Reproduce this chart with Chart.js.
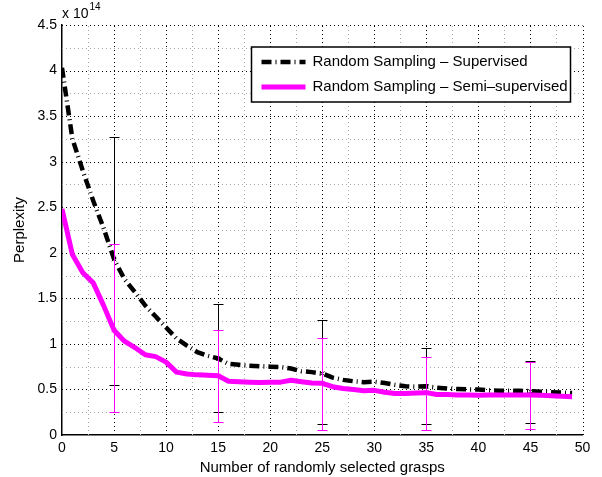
<!DOCTYPE html>
<html>
<head>
<meta charset="utf-8">
<script src="https://cdn.jsdelivr.net/npm/chart.js@4.4.1/dist/chart.umd.min.js"></script>
<style>
  html, body { margin: 0; padding: 0; background: #fff; }
  #wrap { width: 602px; height: 477px; }
</style>
</head>
<body>
<div id="wrap"><canvas id="perplexity" width="602" height="477"></canvas></div>
<script>
/* --------------- Data (perplexity in units of 1e14) --------------- */
const grasps = [0, 1, 2, 3, 4, 5, 6, 7, 8, 9, 10, 11, 12, 13, 14, 15, 16, 17, 18, 19,
  20, 21, 22, 23, 24, 25, 26, 27, 28, 29, 30, 31, 32, 33, 34, 35, 36, 37, 38, 39,
  40, 41, 42, 43, 44, 45, 46, 47, 48, 49];

const supervised = [4.03, 3.25, 2.90, 2.57, 2.27, 1.93, 1.71, 1.57, 1.42, 1.30,
  1.18, 1.06, 0.98, 0.91, 0.87, 0.84, 0.78, 0.77, 0.76, 0.755,
  0.75, 0.745, 0.73, 0.70, 0.69, 0.675, 0.63, 0.605, 0.59, 0.58,
  0.585, 0.57, 0.55, 0.535, 0.53, 0.535, 0.52, 0.51, 0.505, 0.50,
  0.50, 0.49, 0.487, 0.487, 0.485, 0.48, 0.475, 0.47, 0.465, 0.46];

const semiSupervised = [2.48, 1.98, 1.78, 1.67, 1.42, 1.15, 1.03, 0.96, 0.88, 0.86,
  0.80, 0.69, 0.67, 0.66, 0.655, 0.65, 0.59, 0.585, 0.58, 0.575,
  0.58, 0.58, 0.60, 0.585, 0.57, 0.567, 0.53, 0.51, 0.50, 0.485,
  0.49, 0.47, 0.455, 0.455, 0.46, 0.465, 0.445, 0.445, 0.44, 0.44,
  0.435, 0.44, 0.44, 0.44, 0.44, 0.44, 0.435, 0.43, 0.425, 0.42];

/* --------------- Error bars --------------- */
const errX = [5, 15, 25, 35, 45];
const supLow = [0.55, 0.25, 0.117, 0.12, 0.135];
const supHigh = [3.27, 1.44, 1.26, 0.95, 0.81];
const semiLow = [0.25, 0.146, 0.055, 0.055, 0.065];
const semiHigh = [2.10, 1.15, 1.06, 0.86, 0.80];

/* --------------- Ticks --------------- */
const xMajor = [0, 5, 10, 15, 20, 25, 30, 35, 40, 45, 50];
const yMajor = [0, 0.5, 1, 1.5, 2, 2.5, 3, 3.5, 4, 4.5];

const FONT = "'Liberation Sans', Arial, Helvetica, sans-serif";
const MAGENTA = "#ff00ff";

const isMajor = (v, list) => list.some(m => Math.abs(m - v) < 1e-6);

/* dotted matlab style grid, major black + minor grey, from the scale ticks */
const dottedGrid = {
  id: "dottedGrid",
  beforeDatasetsDraw(chart) {
    const { ctx, chartArea: a, scales: { x, y } } = chart;
    ctx.save();
    ctx.lineWidth = 1;
    ctx.setLineDash([1, 3]);
    x.ticks.forEach(t => {
      if (t.value === 0) return;
      const px = Math.round(x.getPixelForValue(t.value)) + 0.5;
      ctx.strokeStyle = isMajor(t.value, xMajor) ? "#000" : "#a8a8a8";
      ctx.beginPath();
      ctx.moveTo(px, a.bottom);
      ctx.lineTo(px, a.top);
      ctx.stroke();
    });
    y.ticks.forEach(t => {
      if (t.value === 0) return;
      const py = Math.round(y.getPixelForValue(t.value)) + 0.5;
      ctx.strokeStyle = isMajor(t.value, yMajor) ? "#000" : "#a8a8a8";
      ctx.beginPath();
      ctx.moveTo(a.left, py);
      ctx.lineTo(a.right, py);
      ctx.stroke();
    });
    ctx.restore();
  }
};

const errorBars = {
  id: "errorBars",
  afterDatasetsDraw(chart) {
    const { ctx, scales: { x, y } } = chart;
    const draw = (lows, highs, color) => {
      ctx.save();
      ctx.strokeStyle = color;
      ctx.lineWidth = 1;
      errX.forEach((v, i) => {
        const px = Math.round(x.getPixelForValue(v)) + 0.5;
        const top = Math.round(y.getPixelForValue(highs[i])) + 0.5;
        const bot = Math.round(y.getPixelForValue(lows[i])) + 0.5;
        ctx.beginPath();
        ctx.moveTo(px, top); ctx.lineTo(px, bot);
        ctx.moveTo(px - 5, top); ctx.lineTo(px + 5, top);
        ctx.moveTo(px - 5, bot); ctx.lineTo(px + 5, bot);
        ctx.stroke();
      });
      ctx.restore();
    };
    draw(supLow, supHigh, "#000");
    draw(semiLow, semiHigh, MAGENTA);
  }
};

/* legend box inside the plot + the "x 10^14" exponent */
const boxLegend = {
  id: "boxLegend",
  afterDraw(chart) {
    const { ctx, chartArea } = chart;
    const w = 319, h = 55;
    const left = chartArea.right - 12 - w;
    const top = chartArea.top + 22;
    ctx.save();
    ctx.fillStyle = "#fff";
    ctx.fillRect(left, top, w, h);
    ctx.strokeStyle = "#000";
    ctx.lineWidth = 1.5;
    ctx.strokeRect(left, top, w, h);

    const rows = [top + 15, top + 40];
    chart.data.datasets.forEach((ds, i) => {
      const yy = rows[i];
      ctx.beginPath();
      ctx.setLineDash(ds.borderDash || []);
      ctx.lineWidth = ds.borderWidth;
      ctx.strokeStyle = ds.borderColor;
      ctx.moveTo(left + 10, yy);
      ctx.lineTo(left + 54, yy);
      ctx.stroke();
      ctx.setLineDash([]);
      ctx.fillStyle = "#000";
      ctx.font = "15px " + FONT;
      ctx.textBaseline = "middle";
      ctx.fillText(ds.label, left + 61, yy);
    });

    ctx.fillStyle = "#000";
    ctx.textBaseline = "alphabetic";
    ctx.font = "14px " + FONT;
    ctx.fillText("x 10", chartArea.left, 18);
    const wx = ctx.measureText("x 10").width;
    ctx.font = "10px " + FONT;
    ctx.fillText("14", chartArea.left + wx + 1, 10);
    ctx.restore();
  }
};

new Chart(document.getElementById("perplexity"), {
  type: "line",
  plugins: [dottedGrid, errorBars, boxLegend],
  data: {
    labels: grasps,
    datasets: [
      {
        label: "Random Sampling \u2013 Supervised",
        data: grasps.map((g, i) => ({ x: g, y: supervised[i] })),
        borderColor: "#000",
        borderWidth: 4.5,
        borderDash: [10, 4, 1, 4],
        borderCapStyle: "butt",
        pointStyle: "crossRot",
        pointRadius: c => errX.includes(grasps[c.dataIndex]) ? 3 : 0,
        pointBorderWidth: 1,
        pointBorderColor: "#000",
        tension: 0,
        order: 2
      },
      {
        label: "Random Sampling \u2013 Semi\u2013supervised",
        data: grasps.map((g, i) => ({ x: g, y: semiSupervised[i] })),
        borderColor: MAGENTA,
        borderWidth: 5,
        borderJoinStyle: "round",
        pointStyle: "crossRot",
        pointRadius: c => errX.includes(grasps[c.dataIndex]) ? 3 : 0,
        pointBorderWidth: 1,
        pointBorderColor: MAGENTA,
        tension: 0,
        order: 1
      }
    ]
  },
  options: {
    responsive: false,
    animation: false,
    devicePixelRatio: 1,
    layout: { padding: { top: 25, right: 19.5, left: 0, bottom: 0 } },
    plugins: { legend: { display: false }, tooltip: { enabled: false } },
    scales: {
      x: {
        type: "linear",
        min: 0, max: 50,
        afterFit: s => { s.height = 42; },
        ticks: {
          stepSize: 2.5,
          autoSkip: false,
          maxRotation: 0,
          padding: 5,
          color: "#000",
          font: { family: FONT, size: 14 },
          callback: v => isMajor(v, xMajor) ? String(v) : ""
        },
        grid: { display: false, drawTicks: false },
        border: { display: true, color: "#000", width: 1.5 },
        title: {
          display: true,
          text: "Number of randomly selected grasps",
          color: "#000",
          font: { family: FONT, size: 15 },
          padding: { top: 2, bottom: 0 }
        }
      },
      y: {
        min: 0, max: 4.5,
        afterFit: s => { s.width = 62; },
        ticks: {
          stepSize: 0.25,
          autoSkip: false,
          padding: 5,
          color: "#000",
          font: { family: FONT, size: 14 },
          callback: v => isMajor(v, yMajor) ? String(v) : ""
        },
        grid: { display: false, drawTicks: false },
        border: { display: true, color: "#000", width: 1.5 },
        title: {
          display: true,
          text: "Perplexity",
          color: "#000",
          font: { family: FONT, size: 15 },
          padding: { top: 11, bottom: 0 }
        }
      }
    }
  }
});
</script>
</body>
</html>
